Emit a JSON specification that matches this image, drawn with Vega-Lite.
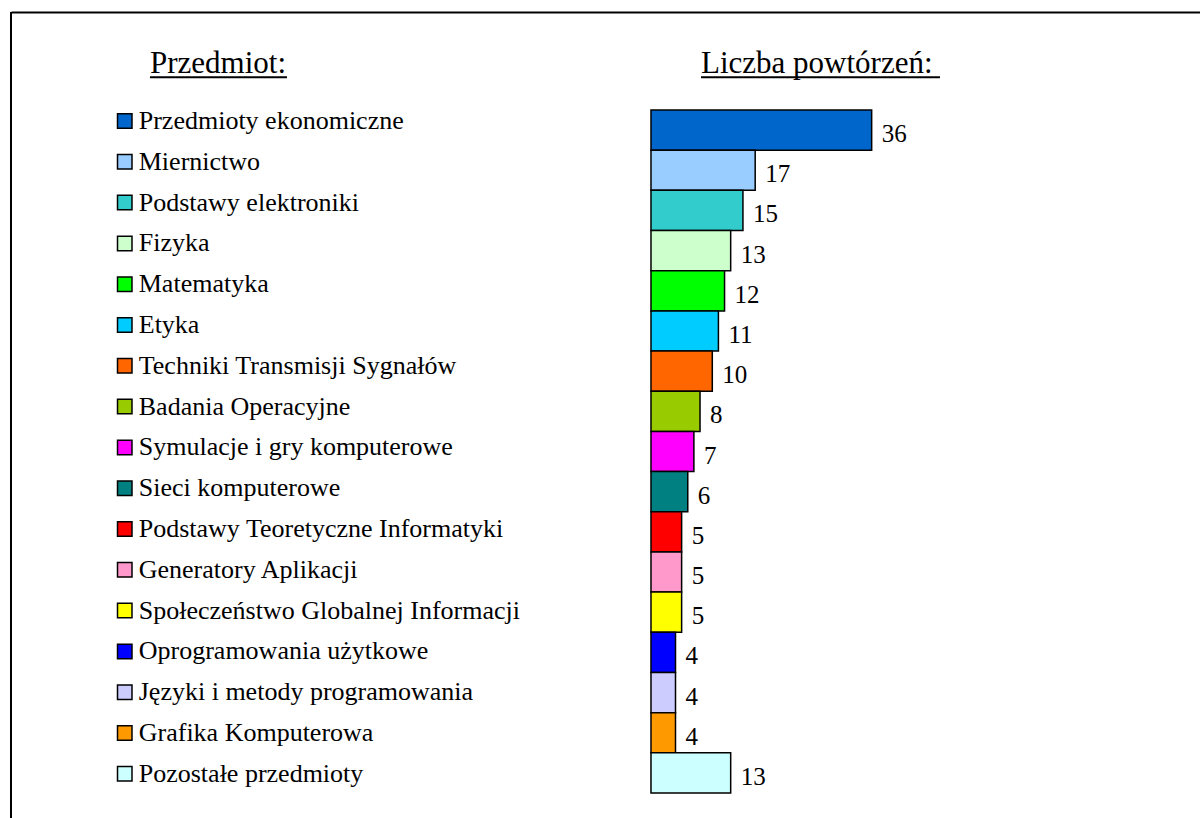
{
  "$schema": "https://vega.github.io/schema/vega-lite/v6.json",
  "width": 1189,
  "height": 806,
  "autosize": {"type": "none"},
  "padding": {"left": 11, "top": 12, "right": 0, "bottom": 0},
  "background": "white",
  "config": {"view": {"stroke": null}, "font": "Liberation Serif", "legend": {"labelFont": "Liberation Serif"}},
  "data": {"values": [
    {"name": "Przedmioty ekonomiczne", "value": 36},
    {"name": "Miernictwo", "value": 17},
    {"name": "Podstawy elektroniki", "value": 15},
    {"name": "Fizyka", "value": 13},
    {"name": "Matematyka", "value": 12},
    {"name": "Etyka", "value": 11},
    {"name": "Techniki Transmisji Sygnałów", "value": 10},
    {"name": "Badania Operacyjne", "value": 8},
    {"name": "Symulacje i gry komputerowe", "value": 7},
    {"name": "Sieci komputerowe", "value": 6},
    {"name": "Podstawy Teoretyczne Informatyki", "value": 5},
    {"name": "Generatory Aplikacji", "value": 5},
    {"name": "Społeczeństwo Globalnej Informacji", "value": 5},
    {"name": "Oprogramowania użytkowe", "value": 4},
    {"name": "Języki i metody programowania", "value": 4},
    {"name": "Grafika Komputerowa", "value": 4},
    {"name": "Pozostałe przedmioty", "value": 13}
  ]},
  "layer": [
    {
      "mark": {"type": "bar", "stroke": "black", "strokeWidth": 1.5},
      "encoding": {
        "y": {
          "field": "name", "type": "nominal",
          "scale": {
            "domain": ["Przedmioty ekonomiczne", "Miernictwo", "Podstawy elektroniki", "Fizyka", "Matematyka", "Etyka", "Techniki Transmisji Sygnałów", "Badania Operacyjne", "Symulacje i gry komputerowe", "Sieci komputerowe", "Podstawy Teoretyczne Informatyki", "Generatory Aplikacji", "Społeczeństwo Globalnej Informacji", "Oprogramowania użytkowe", "Języki i metody programowania", "Grafika Komputerowa", "Pozostałe przedmioty"],
            "range": [98, 781],
            "paddingInner": 0, "paddingOuter": 0, "round": false
          },
          "axis": null
        },
        "x": {
          "field": "value", "type": "quantitative",
          "scale": {"domain": [-104.40, 89.56], "nice": false, "zero": false},
          "axis": {"orient": "top", "labels": false, "ticks": false, "grid": false, "title": null, "domainColor": "black", "domainWidth": 2}
        },
        "x2": {"datum": 0},
        "color": {
          "field": "name", "type": "nominal",
          "scale": {
            "domain": ["Przedmioty ekonomiczne", "Miernictwo", "Podstawy elektroniki", "Fizyka", "Matematyka", "Etyka", "Techniki Transmisji Sygnałów", "Badania Operacyjne", "Symulacje i gry komputerowe", "Sieci komputerowe", "Podstawy Teoretyczne Informatyki", "Generatory Aplikacji", "Społeczeństwo Globalnej Informacji", "Oprogramowania użytkowe", "Języki i metody programowania", "Grafika Komputerowa", "Pozostałe przedmioty"],
            "range": ["#0066CC", "#99CCFF", "#33CCCC", "#CCFFCC", "#00FF00", "#00CCFF", "#FF6600", "#99CC00", "#FF00FF", "#008080", "#FF0000", "#FF99CC", "#FFFF00", "#0000FF", "#CCCCFF", "#FF9900", "#CCFFFF"]
          },
          "legend": {
            "orient": "none", "legendX": 100.75, "legendY": 96,
            "title": null,
            "symbolType": "square", "symbolSize": 210, "symbolStrokeColor": "black", "symbolStrokeWidth": 1.5,
            "labelFont": "Liberation Serif", "labelFontSize": 26, "labelColor": "black", "labelLimit": 800,
            "labelOffset": 1, "rowPadding": 14.8, "padding": 0, "symbolOpacity": 1
          }
        }
      }
    },
    {
      "mark": {"type": "text", "align": "left", "baseline": "middle", "dx": 10, "dy": 4, "fontSize": 25, "font": "Liberation Serif", "color": "black"},
      "encoding": {
        "y": {"field": "name", "type": "nominal"},
        "x": {"field": "value", "type": "quantitative"},
        "text": {"field": "value", "type": "quantitative"}
      }
    },
    {
      "data": {"values": [{"frame": "left"}]},
      "mark": {"type": "rule", "strokeWidth": 2, "color": "black"},
      "encoding": {
        "x": {"datum": -104.40}
      }
    },
    {
      "data": {"values": [{"t": "Przedmiot:"}]},
      "mark": {"type": "text", "align": "left", "baseline": "alphabetic", "dy": -57.2, "fontSize": 31, "font": "Liberation Serif", "color": "black"},
      "encoding": {
        "x": {"datum": -81.73},
        "y": {"datum": "Przedmioty ekonomiczne"},
        "text": {"field": "t"}
      }
    },
    {
      "data": {"values": [{"t": "Liczba powtórzeń:"}]},
      "mark": {"type": "text", "align": "left", "baseline": "alphabetic", "dy": -57.2, "fontSize": 31, "font": "Liberation Serif", "color": "black"},
      "encoding": {
        "x": {"datum": 8.16},
        "y": {"datum": "Przedmioty ekonomiczne"},
        "text": {"field": "t"}
      }
    },
    {
      "data": {"values": [{"t": "Przedmiot:"}]},
      "mark": {"type": "rule", "strokeWidth": 2, "color": "black", "yOffset": -52.8},
      "encoding": {
        "x": {"datum": -81.73},
        "x2": {"datum": -59.38},
        "y": {"datum": "Przedmioty ekonomiczne"}
      }
    },
    {
      "data": {"values": [{"t": "Liczba powtórzeń:"}]},
      "mark": {"type": "rule", "strokeWidth": 2, "color": "black", "yOffset": -52.8},
      "encoding": {
        "x": {"datum": 8.16},
        "x2": {"datum": 47.14},
        "y": {"datum": "Przedmioty ekonomiczne"}
      }
    }
  ]
}
